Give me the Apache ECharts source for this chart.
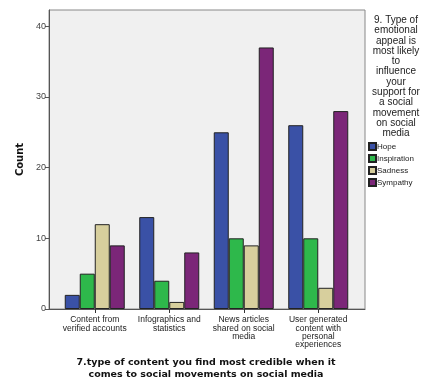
<!DOCTYPE html>
<html>
<head>
<meta charset="utf-8">
<script src="https://cdn.jsdelivr.net/npm/echarts@6/dist/echarts.min.js"></script>
<style>
html,body{margin:0;padding:0;background:#fff;}
#chart{width:426px;height:388px;}
</style>
</head>
<body>
<div id="chart"></div>
<script>
const categories = [
  "Content from\nverified accounts",
  "Infographics and\nstatistics",
  "News articles\nshared on social\nmedia",
  "User generated\ncontent with\npersonal\nexperiences"
];
const seriesNames = ["Hope", "Inspiration", "Sadness", "Sympathy"];
const hope = [2, 13, 25, 26];
const inspiration = [5, 4, 10, 10];
const sadness = [12, 1, 9, 3];
const sympathy = [9, 8, 37, 28];
const yTicks = [0, 10, 20, 30, 40];
const colors = ["#3a51a6", "#2eb84b", "#d7cf9d", "#7b2678"];
const legendTitle = "9. Type of\nemotional\nappeal is\nmost likely\nto\ninfluence\nyour\nsupport for\na social\nmovement\non social\nmedia";
const xTitle = "7.type of content you find most credible when it\ncomes to social movements on social media";
const yTitle = "Count";

const values = [hope, inspiration, sadness, sympathy];
const yMax = 42.3;

const chart = echarts.init(document.getElementById('chart'), null, {renderer: 'canvas'});
chart.setOption({
  animation: false,
  backgroundColor: '#ffffff',
  color: colors,
  title: [
    {text: legendTitle, left: 391, top: 10, textAlign: 'center',
     textStyle: {fontFamily: 'Liberation Sans', fontSize: 10, fontWeight: 'normal', color: '#222', lineHeight: 10.3, align: 'center'}},
    {text: xTitle, left: 201, top: 352, textAlign: 'center',
     textStyle: {fontFamily: 'DejaVu Sans', fontSize: 9.5, fontWeight: 'bold', color: '#111', lineHeight: 11.5, align: 'center'}}
  ],
  legend: {
    data: seriesNames,
    orient: 'vertical',
    left: 368, top: 142,
    icon: 'rect',
    itemWidth: 7, itemHeight: 7, itemGap: 3,
    textStyle: {fontFamily: 'Liberation Sans', fontSize: 8, color: '#222', padding: [0,0,0,-4]},
    padding: 0
  },
  grid: [
    {left: 49, top: 10, width: 316, height: 299, show: true, backgroundColor: '#f0f0f0', borderColor: '#888', borderWidth: 1},
    {left: 57.5, top: 10, width: 298, height: 299}
  ],
  xAxis: [
    {gridIndex: 0, type: 'value', min: 0, max: 1, show: true,
     axisLine: {show: true, lineStyle: {color: '#555', width: 1}}, axisTick: {show: false}, axisLabel: {show: false}, splitLine: {show: false}},
    {gridIndex: 1, type: 'category', data: categories,
     axisLine: {show: false},
     axisTick: {show: true, alignWithLabel: true, length: 4, lineStyle: {color: '#333'}},
     axisLabel: {fontFamily: 'Liberation Sans', fontSize: 8.5, color: '#222', lineHeight: 8.3, margin: 7, interval: 0}}
  ],
  yAxis: [
    {gridIndex: 0, type: 'value', min: 0, max: yMax, interval: 10,
     axisLine: {show: true, lineStyle: {color: '#555'}},
     axisTick: {show: true, length: 4, lineStyle: {color: '#555'}, customValues: yTicks},
     axisLabel: {fontFamily: 'Liberation Sans', fontSize: 9, color: '#444', margin: 3, customValues: yTicks},
     splitLine: {show: false},
     name: yTitle, nameLocation: 'middle', nameGap: 23, nameRotate: 90,
     nameTextStyle: {fontFamily: 'DejaVu Sans', fontSize: 10, fontWeight: 'bold', color: '#111'}},
    {gridIndex: 1, type: 'value', min: 0, max: yMax, show: false}
  ],
  series: seriesNames.map((n, i) => ({
    name: n, type: 'bar', xAxisIndex: 1, yAxisIndex: 1,
    data: values[i], barWidth: 15, barGap: '0%',
    itemStyle: {color: colors[i], borderColor: '#222', borderWidth: 1}
  }))
});
</script>
</body>
</html>
